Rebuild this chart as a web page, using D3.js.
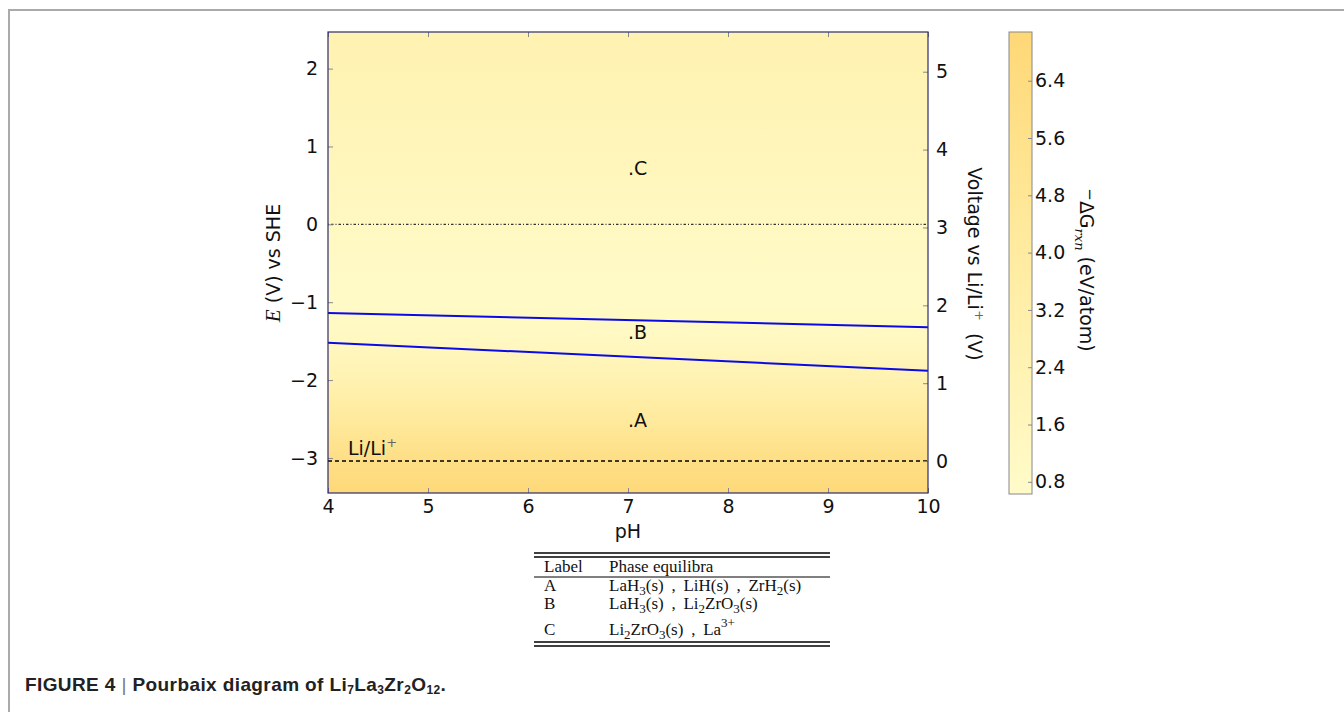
<!doctype html>
<html>
<head>
<meta charset="utf-8">
<title>Pourbaix LLZO</title>
<script src="https://d3js.org/d3.v7.min.js"></script>
<style>
	body { margin: 0; background: #fff; }
	svg { display: block; }
	.ax text { font-family: "DejaVu Sans"; font-size: 19px; fill: #111; }
	.tbl { font-family: "Liberation Serif"; font-size: 17px; fill: #111; }
</style>
</head>
<body>
<script>
// ---- data ----
var pHTicks = [4, 5, 6, 7, 8, 9, 10]
var eTicks = [-3, -2, -1, 0, 1, 2]
var liTicks = [0, 1, 2, 3, 4, 5]
var cbTicks = [0.8, 1.6, 2.4, 3.2, 4.0, 4.8, 5.6, 6.4]

// background -dG (eV/atom) versus E, roughly uniform across pH
var bgE = [2.47, 2.0, 1.0, 0.0, -0.5, -1.0, -1.5, -2.0, -2.5, -3.0, -3.45]
var bgG = [2.6, 2.4, 1.9, 1.3, 1.0, 0.9, 1.3, 2.6, 4.2, 5.9, 6.9]

// phase boundaries [pH, E]
var lineBC = [[4, -1.14], [10, -1.32]]
var lineAB = [[4, -1.52], [10, -1.88]]
var eLi = -3.04

var regionNames = [".A", ".B", ".C"]
var regionE = [-2.6, -1.47, 0.63]
var regionPH = [7, 7, 7]

var tableLabels = ["A", "B", "C"]
var tablePhases = [
	"LaH_{3}(s) , LiH(s) , ZrH_{2}(s)",
	"LaH_{3}(s) , Li_{2}ZrO_{3}(s)",
	"Li_{2}ZrO_{3}(s) , La^{3+}"
]

var width = 1344
var height = 712

var svg = d3.select("body").append("svg")
	.attr("width", width)
	.attr("height", height)

var x = d3.scaleLinear().domain([4, 10]).range([328, 928])
var y = d3.scaleLinear().domain([-3.45, 2.47]).range([493, 32])
var yLi = d3.scaleLinear().domain([-3.45 - eLi, 2.47 - eLi]).range([493, 32])
var cb = d3.scaleLinear().domain([0.63, 7.08]).range([494, 32])
var color = d3.scaleLinear()
	.domain([0.63, 3.85, 7.08])
	.range(["#fffbc9", "#ffeca2", "#fed877"])

// outer frame of the figure page
svg.append("path")
	.attr("d", "M9,712 L9,10 L1344,10")
	.attr("fill", "none")
	.attr("stroke", "#aaa")
	.attr("stroke-width", 2)

var defs = svg.append("defs")

var bgGrad = defs.append("linearGradient")
	.attr("id", "bg")
	.attr("gradientUnits", "userSpaceOnUse")
	.attr("x1", 0).attr("x2", 0)
	.attr("y1", y(2.47)).attr("y2", y(-3.45))
bgGrad.selectAll("stop")
	.data(bgE)
	.enter().append("stop")
	.attr("offset", function(d) { return (y(d) - y(2.47)) / (y(-3.45) - y(2.47)) })
	.attr("stop-color", function(d, i) { return color(bgG[i]) })

var cbGrad = defs.append("linearGradient")
	.attr("id", "cbg")
	.attr("x1", 0).attr("x2", 0).attr("y1", 1).attr("y2", 0)
cbGrad.selectAll("stop")
	.data(color.domain())
	.enter().append("stop")
	.attr("offset", function(d) { return (d - 0.63) / (7.08 - 0.63) })
	.attr("stop-color", function(d) { return color(d) })

// plot background
svg.append("rect")
	.attr("x", x(4)).attr("y", y(2.47))
	.attr("width", x(10) - x(4)).attr("height", y(-3.45) - y(2.47))
	.attr("fill", "url(#bg)")

// reference lines
svg.append("line")
	.attr("x1", x(4)).attr("x2", x(10))
	.attr("y1", y(0)).attr("y2", y(0))
	.attr("stroke", "#333").attr("stroke-width", 1.1)
	.attr("stroke-dasharray", "1,2,2.5,2")

svg.append("line")
	.attr("x1", x(4)).attr("x2", x(10))
	.attr("y1", y(eLi)).attr("y2", y(eLi))
	.attr("stroke", "#000").attr("stroke-width", 1.5)
	.attr("stroke-dasharray", "4,3")

var line = d3.line()
	.x(function(d) { return x(d[0]) })
	.y(function(d) { return y(d[1]) })

svg.selectAll(".bound")
	.data([lineBC, lineAB])
	.enter().append("path")
	.attr("class", "bound")
	.attr("d", line)
	.attr("fill", "none")
	.attr("stroke", "#0a0ae6")
	.attr("stroke-width", 2)

svg.selectAll(".region")
	.data(regionNames)
	.enter().append("text")
	.attr("class", "region")
	.attr("x", function(d, i) { return x(regionPH[i]) })
	.attr("y", function(d, i) { return y(regionE[i]) })
	.attr("font-family", "DejaVu Sans")
	.attr("font-size", 19)
	.attr("fill", "#111")
	.text(function(d) { return d })

var liLab = svg.append("text")
	.attr("x", x(4.2))
	.attr("y", y(-2.96))
	.attr("font-family", "DejaVu Sans")
	.attr("font-size", 19)
	.attr("fill", "#111")
	.text("Li/Li")
liLab.append("tspan")
	.attr("dy", -8)
	.attr("font-size", 13)
	.attr("fill", "#666")
	.text("+")

// axes with inward ticks
var fmt = d3.format("d")
var ax = svg.append("g").attr("class", "ax")

ax.append("g")
	.attr("transform", "translate(0," + y(-3.45) + ")")
	.call(d3.axisBottom(x).tickValues(pHTicks).tickFormat(fmt).tickSize(-5).tickPadding(7))
ax.append("g")
	.attr("transform", "translate(0," + y(2.47) + ")")
	.call(d3.axisTop(x).tickValues(pHTicks).tickSize(-5).tickFormat(""))
ax.append("g")
	.attr("transform", "translate(" + x(4) + ",0)")
	.call(d3.axisLeft(y).tickValues(eTicks).tickFormat(fmt).tickSize(-5).tickPadding(10))
ax.append("g")
	.attr("transform", "translate(" + x(10) + ",0)")
	.call(d3.axisRight(yLi).tickValues(liTicks).tickFormat(fmt).tickSize(-5).tickPadding(8))
ax.selectAll(".domain").remove()
ax.selectAll(".tick line").attr("stroke", "#888")

svg.append("rect")
	.attr("x", x(4)).attr("y", y(2.47))
	.attr("width", x(10) - x(4)).attr("height", y(-3.45) - y(2.47))
	.attr("fill", "none")
	.attr("stroke", "#2c2c70")
	.attr("stroke-width", 1.2)

// axis titles
ax.append("text")
	.attr("x", 628).attr("y", 538)
	.attr("text-anchor", "middle")
	.text("pH")

var leftT = ax.append("text")
	.attr("transform", "translate(280,263) rotate(-90)")
	.attr("text-anchor", "middle")
leftT.append("tspan")
	.attr("font-family", "Liberation Serif")
	.attr("font-style", "italic")
	.attr("font-size", 21)
	.text("E")
leftT.append("tspan").text("\u00a0(V) vs SHE")

var rightT = ax.append("text")
	.attr("transform", "translate(968,264) rotate(90)")
	.attr("text-anchor", "middle")
rightT.append("tspan").text("Voltage vs Li/Li")
rightT.append("tspan").attr("dy", -7).attr("font-size", 13).attr("fill", "#666").text("+")
rightT.append("tspan").attr("dy", 7).text("\u00a0\u00a0(V)")

// colorbar
svg.append("rect")
	.attr("x", 1009).attr("y", cb(7.08))
	.attr("width", 23).attr("height", cb(0.63) - cb(7.08))
	.attr("fill", "url(#cbg)")
	.attr("stroke", "#888")
	.attr("stroke-width", 1)

var cbAx = svg.append("g").attr("class", "ax")
	.attr("transform", "translate(1032,0)")
	.call(d3.axisRight(cb).tickValues(cbTicks).tickSize(-4).tickPadding(3).tickFormat(d3.format(".1f")))
cbAx.select(".domain").remove()
cbAx.selectAll(".tick line").attr("stroke", "#888")

var cbT = svg.append("text")
	.attr("transform", "translate(1080,270) rotate(90)")
	.attr("text-anchor", "middle")
	.attr("font-family", "DejaVu Sans")
	.attr("font-size", 19)
	.attr("fill", "#111")
cbT.append("tspan").attr("dy", -5).attr("font-size", 15).text("\u2212")
cbT.append("tspan").attr("dy", 5).text("\u0394G")
cbT.append("tspan").attr("dy", 5).attr("font-size", 13)
	.attr("font-family", "DejaVu Serif").attr("font-style", "italic").text("rxn")
cbT.append("tspan").attr("dy", -5).text("\u00a0(eV/atom)")

// rich text helper for sub/superscripts
function richText(sel, str, subSize, subDy, supDy) {
	var parts = str.split(/([_^]\{[^}]*\})/)
	var shift = 0
	parts.forEach(function(p) {
		if (!p) return
		var m = p.match(/^([_^])\{(.*)\}$/)
		if (m) {
			var d = m[1] == "_" ? subDy : supDy
			sel.append("tspan").attr("dy", d - shift).attr("font-size", subSize).text(m[2])
			shift = d
		} else {
			sel.append("tspan").attr("dy", -shift).text(p.replace(/ /g, "\u00a0"))
			shift = 0
		}
	})
}

// table under the plot
var tbl = svg.append("g").attr("class", "tbl")
var tx0 = 534, tx1 = 830
var ruleY = [553, 557, 577, 642, 646]
tbl.selectAll("line")
	.data(ruleY)
	.enter().append("line")
	.attr("x1", tx0).attr("x2", tx1)
	.attr("y1", function(d) { return d }).attr("y2", function(d) { return d })
	.attr("stroke", "#000")
	.attr("stroke-width", function(d, i) { return i == 2 ? 1 : 1.3 })

tbl.append("text").attr("x", 544).attr("y", 572).text("Label")
tbl.append("text").attr("x", 609).attr("y", 572).text("Phase equilibra")

var rowY = [591, 609, 635]
tbl.selectAll(".lab")
	.data(tableLabels)
	.enter().append("text")
	.attr("class", "lab")
	.attr("x", 544)
	.attr("y", function(d, i) { return rowY[i] })
	.text(function(d) { return d })

tablePhases.forEach(function(s, i) {
	var t = tbl.append("text").attr("x", 609).attr("y", rowY[i])
		.attr("word-spacing", 3.5)
	richText(t, s, 13, 4, -8)
})

// caption
var cap = svg.append("text")
	.attr("x", 25).attr("y", 691)
	.attr("font-family", "Liberation Sans")
	.attr("font-weight", "bold")
	.attr("font-size", 19)
	.attr("letter-spacing", 0.4)
	.attr("fill", "#222")
cap.append("tspan").text("FIGURE 4\u00a0")
cap.append("tspan").attr("font-weight", "normal").attr("fill", "#777").text("|")
richText(cap, " Pourbaix diagram of Li_{7}La_{3}Zr_{2}O_{12}.", 12, 3, -6)
</script>
</body>
</html>
